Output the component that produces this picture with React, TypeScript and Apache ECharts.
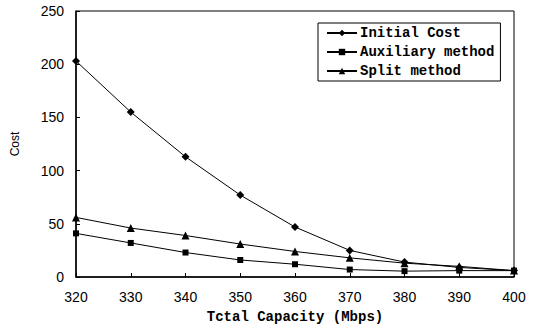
import React, { useEffect, useRef } from "react";
import * as echarts from "echarts";

const capacities = [320, 330, 340, 350, 360, 370, 380, 390, 400];
const initialCost = [203, 155, 113, 77, 47, 25, 14, 9, 6];
const auxiliaryMethod = [41, 32, 23, 16, 12, 7, 5.5, 6, 6];
const splitMethod = [56, 46, 39, 31, 24, 18, 13, 10, 6];

const seriesNames = ["Initial Cost", "Auxiliary method", "Split method"];
const xAxisName = "Tctal Capacity (Mbps)";
const yAxisName = "Cost";

const mono = "'Liberation Mono', 'DejaVu Sans Mono', monospace";
const sans = "'Liberation Sans', Arial, sans-serif";

function pairs(vals: number[]) {
  return capacities.map((c, i) => [c, vals[i]]);
}

export default function App() {
  const ref = useRef<HTMLDivElement>(null);
  useEffect(() => {
    if (!ref.current) return;
    const chart = echarts.init(ref.current, undefined, { renderer: "svg" });
    const mk = (name: string, vals: number[], symbol: string, size: number) => ({
      name,
      type: "line",
      data: pairs(vals),
      symbol,
      symbolSize: size,
      lineStyle: { color: "#000", width: 1 },
      itemStyle: { color: "#000" },
      z: 3,
    });
    chart.setOption({
      animation: false,
      backgroundColor: "#fff",
      grid: {
        left: 76,
        right: 27,
        top: 11,
        bottom: 49,
        show: true,
        borderColor: "#000",
        borderWidth: 1,
      },
      legend: {
        orient: "vertical",
        left: 318,
        top: 23,
        width: 181,
        padding: [3, 6, 3, 8],
        itemGap: 5,
        itemWidth: 30,
        itemHeight: 8,
        borderColor: "#000",
        borderWidth: 1,
        backgroundColor: "#fff",
        textStyle: { fontFamily: mono, fontWeight: "bold", fontSize: 14, color: "#000", padding: [0, 0, 0, -2] },
        data: seriesNames,
      },
      xAxis: {
        type: "value",
        min: 320,
        max: 400,
        interval: 10,
        name: xAxisName,
        nameLocation: "middle",
        nameGap: 33,
        nameTextStyle: { fontFamily: mono, fontWeight: "bold", fontSize: 14, color: "#000" },
        axisLine: { lineStyle: { color: "#000", width: 1.5 } },
        axisTick: { inside: true, length: 4, lineStyle: { color: "#000" } },
        axisLabel: { fontFamily: sans, fontSize: 14, color: "#000", margin: 13 },
        splitLine: { show: false },
      },
      yAxis: {
        type: "value",
        min: 0,
        max: 250,
        interval: 50,
        name: yAxisName,
        nameLocation: "middle",
        nameGap: 55,
        nameRotate: 90,
        nameTextStyle: { fontFamily: sans, fontSize: 12, color: "#000" },
        axisLine: { show: true, lineStyle: { color: "#000", width: 1.5 } },
        axisTick: { show: true, inside: true, length: 4, lineStyle: { color: "#000" } },
        axisLabel: { fontFamily: sans, fontSize: 14, color: "#000", margin: 12 },
        splitLine: { show: false },
      },
      series: [
        mk(seriesNames[0], initialCost, "diamond", 8),
        mk(seriesNames[1], auxiliaryMethod, "rect", 6),
        mk(seriesNames[2], splitMethod, "triangle", 8),
      ],
    });
    return () => chart.dispose();
  }, []);
  return (
    <div
      ref={ref}
      style={{ position: "fixed", left: 0, top: 0, width: 541, height: 329, background: "#fff" }}
    />
  );
}
